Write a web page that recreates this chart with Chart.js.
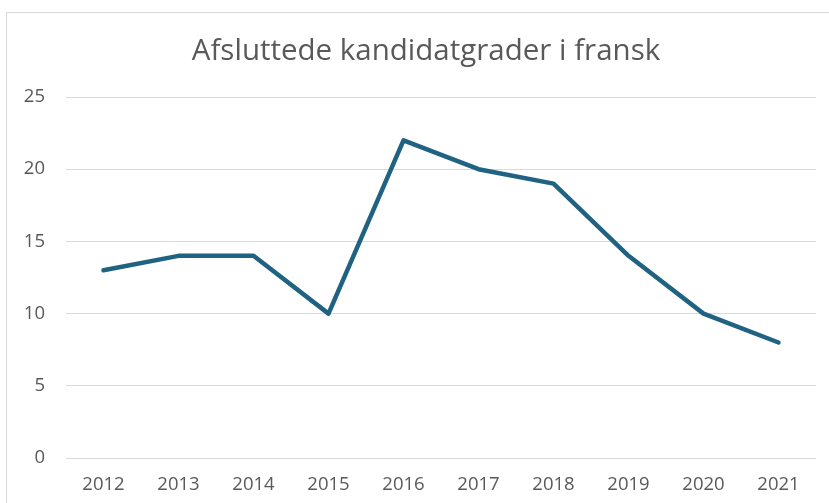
<!DOCTYPE html>
<html>
<head>
<meta charset="utf-8">
<script src="https://cdn.jsdelivr.net/npm/chart.js@4.4.1/dist/chart.umd.min.js"></script>
<style>
  html, body { margin: 0; padding: 0; background: #fff; overflow: hidden; }
  #wrap { position: relative; width: 829px; height: 503px; }
  #frame { position: absolute; left: 6px; top: 12px; width: 900px; height: 600px; border: 1px solid #d9d9d9; box-sizing: border-box; }
  canvas { position: absolute; left: 0; top: 0; }
</style>
</head>
<body>
<div id="wrap">
  <div id="frame"></div>
  <canvas id="chart" width="829" height="503"></canvas>
</div>
<script>
const years = ['2012', '2013', '2014', '2015', '2016', '2017', '2018', '2019', '2020', '2021'];
const graduates = [13, 14, 14, 10, 22, 20, 19, 14, 10, 8];
const yTicks = [0, 5, 10, 15, 20, 25];

const textColor = '#595959';

// nudge the title box so the text centres where the original has it
const titleShift = {
    id: 'titleShift',
    afterLayout(chart) {
        if (chart.titleBlock) chart.titleBlock.left = 36;
    }
};

new Chart(document.getElementById('chart'), {
    type: 'line',
    data: {
        labels: years,
        datasets: [{
            data: graduates,
            borderColor: '#1f6282',
            borderWidth: 4.5,
            pointRadius: 0,
            tension: 0,
            borderJoinStyle: 'round',
            borderCapStyle: 'round'
        }]
    },
    options: {
        responsive: false,
        animation: false,
        devicePixelRatio: 1,
        layout: { padding: { left: 0, right: 13, top: 0, bottom: 0 } },
        plugins: {
            legend: { display: false },
            tooltip: { enabled: false },
            title: {
                display: true,
                text: 'Afsluttede kandidatgrader i fransk',
                color: textColor,
                font: { family: 'Open Sans', size: 29.5, weight: 'normal' },
                padding: { top: 34, bottom: 27.6 }
            }
        },
        scales: {
            x: {
                offset: true,
                grid: { display: false, drawTicks: false },
                border: { display: false },
                ticks: { color: textColor, font: { family: 'Open Sans', size: 18.5 }, padding: 15.5, maxRotation: 0 },
                afterFit: s => { s.height = 45; }
            },
            y: {
                min: 0, max: 25,
                afterBuildTicks: s => { s.ticks = yTicks.map(v => ({ value: v })); },
                grid: { color: '#d9d9d9', lineWidth: 1, drawTicks: false },
                border: { display: false },
                ticks: { color: textColor, font: { family: 'Open Sans', size: 18.5 }, padding: 21 },
                afterFit: s => { s.width = 66; }
            }
        }
    },
    plugins: [titleShift]
});
</script>
</body>
</html>
